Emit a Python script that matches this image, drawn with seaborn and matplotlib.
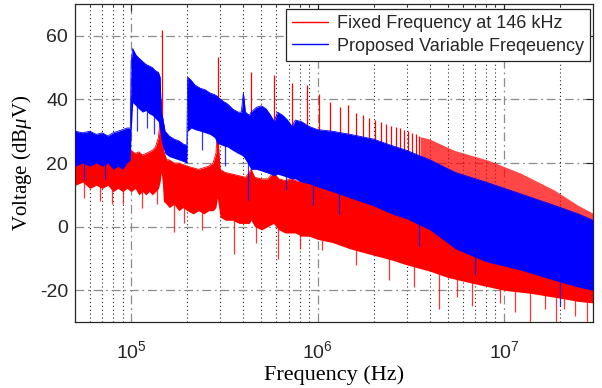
import numpy as np
import pandas as pd
import matplotlib
matplotlib.use("Agg")
import matplotlib.pyplot as plt
import seaborn as sns

# ------------------------------
# Data (frequency in Hz, level in dBuV)
# ------------------------------
# fixed frequency: noise band
red_freq = [5.0e4, 5.5e4, 6.0e4, 6.5e4, 7.0e4, 7.5e4, 8.0e4, 8.5e4, 9.0e4, 9.5e4,
            1.0e5, 1.05e5, 1.1e5, 1.15e5, 1.2e5, 1.25e5, 1.3e5, 1.35e5, 1.4e5, 1.43e5,
            1.45e5, 1.47e5, 1.49e5, 1.55e5, 1.6e5, 1.7e5, 1.8e5, 1.9e5, 2.0e5, 2.15e5,
            2.3e5, 2.45e5, 2.6e5, 2.75e5, 2.85e5, 2.9e5, 2.95e5, 3.0e5, 3.2e5, 3.5e5,
            3.8e5, 4.1e5, 4.3e5, 4.4e5, 4.6e5, 5.0e5, 5.4e5, 5.8e5, 6.2e5, 6.7e5,
            7.2e5, 7.6e5, 8.2e5, 9.0e5, 1.0e6, 1.2e6, 1.5e6, 2.0e6, 2.5e6, 3.0e6,
            4.0e6, 5.0e6, 7.0e6, 1.0e7, 1.4e7, 2.0e7, 2.5e7, 3.0e7]
red_lo = [13, 14, 12, 13, 12, 13, 11, 12, 11, 12,
          11, 12, 10, 11, 10, 11, 10, 11, 12, 14,
          17, 14, 8, 7, 6, 7, 5, 6, 5, 4,
          5, 4, 5, 5, 6, 9, 6, 3, 2, 2,
          1, 1, 1, 2, 0, -1, 0, 1, -1, -2,
          -2, -2, -3, -3, -4, -5, -7, -9, -10.5, -12,
          -14, -16, -18, -20, -21, -22.5, -23.5, -24]
red_hi = [27, 25, 26, 25, 26, 24, 25, 24, 25, 24,
          24, 23, 23.5, 22.5, 23, 23.5, 24, 25, 28, 33,
          40, 36, 24, 21, 21, 20, 20, 19.5, 19, 18.5,
          18, 18.5, 19, 20, 23, 30, 24, 18, 17, 16.5,
          16, 15.5, 17, 18, 15.5, 15, 15, 17, 15, 14.5,
          15, 14.5, 14, 14, 14, 13, 12, 10, 9, 8,
          6, 4.5, 2, 0, -2, -4, -5, -6]

# fixed frequency: switching harmonics (146 kHz and multiples)
harm_freq = [146e3, 292e3, 438e3, 584e3, 730e3, 876e3, 1.022e6, 1.168e6, 1.314e6, 1.46e6,
             1.606e6, 1.752e6, 1.898e6, 2.044e6, 2.19e6, 2.336e6, 2.482e6, 2.628e6, 2.774e6, 2.92e6,
             3.066e6, 3.212e6, 3.358e6, 3.504e6]
harm_peak = [61.7, 53.3, 48.6, 47.7, 45.1, 44.6, 41.6, 39.3, 37.7, 38.3,
             35.7, 35.2, 34.1, 33.6, 33.0, 32.3, 31.7, 31.3, 31.0, 30.4,
             30.0, 29.5, 29.0, 28.6]
harm_base = [20, 22, 17, 16, 15, 14, 14, 13, 13, 12,
             12, 12, 11, 11, 10, 10, 10, 10, 9, 9,
             9, 8, 8, 8]

# dense harmonic comb at high frequency
comb_freq = [3.55e6, 4.0e6, 5.4e6, 8.2e6, 1.23e7, 1.86e7, 2.48e7, 3.0e7]
comb_top = [28.3, 27.5, 24.0, 20.9, 16.8, 11.5, 6.8, 4.2]
comb_base = [8, 6, 4, 1, -1, -3, -5, -6]

# downward spikes of the fixed frequency trace
red_dip_freq = [5.6e4, 6.8e4, 7.9e4, 9.1e4, 1.15e5, 1.38e5, 1.69e5, 1.93e5, 2.4e5, 3.58e5,
                4.7e5, 6.16e5, 8.03e5, 1.05e6, 1.6e6, 2.43e6, 3.3e6, 4.5e6, 5.6e6, 6.75e6,
                9.5e6, 1.15e7, 1.37e7, 1.65e7, 1.9e7, 2.1e7, 2.4e7, 2.8e7]
red_dip_lo = [9, 8, 7, 7.2, 5.7, 7.2, -1.6, 1, -1, -8.7,
              -5, -10.3, -7.1, -7.5, -12, -16.8, -19, -26, -22, -25,
              -24, -27, -30, -26, -30, -26, -28, -30]
red_dip_top = [15, 14, 13, 13, 12, 12, 8, 7, 6, 4,
               2, 1, 0, -2, -5, -8, -10, -12, -14, -15,
               -17, -18, -19, -20, -20, -20, -21, -22]

# proposed variable frequency: noise band
blue_freq = [5.0e4, 5.5e4, 6.0e4, 6.5e4, 7.0e4, 7.5e4, 8.0e4, 8.5e4, 9.0e4, 9.5e4,
             9.9e4, 1.0e5, 1.02e5, 1.06e5, 1.1e5, 1.15e5, 1.2e5, 1.25e5, 1.3e5, 1.35e5,
             1.4e5, 1.43e5, 1.45e5, 1.48e5, 1.52e5, 1.6e5, 1.7e5, 1.8e5, 1.9e5, 1.99e5,
             2.01e5, 2.1e5, 2.2e5, 2.35e5, 2.5e5, 2.65e5, 2.8e5, 2.9e5, 2.95e5, 3.1e5,
             3.3e5, 3.5e5, 3.75e5, 3.9e5, 4.0e5, 4.1e5, 4.3e5, 4.4e5, 4.7e5, 5.0e5,
             5.3e5, 5.6e5, 5.85e5, 6.1e5, 6.5e5, 6.9e5, 7.3e5, 7.6e5, 8.2e5, 9.0e5,
             1.0e6, 1.2e6, 1.5e6, 2.0e6, 2.5e6, 3.0e6, 4.0e6, 5.5e6, 8.0e6, 1.2e7,
             1.9e7, 2.5e7, 3.0e7]
blue_lo = [19, 20, 19, 20, 19, 20, 18, 19, 18, 20,
           21, 30, 39, 38, 37, 36, 36.5, 35.5, 35, 34,
           33, 30, 27, 25, 23, 22, 21.5, 21, 20.5, 20,
           30, 31, 30.5, 30, 29.5, 29, 28, 26, 26, 25.5,
           25, 24, 23, 22.5, 22, 21, 19, 18, 18, 17.5,
           17, 16.5, 16, 16.5, 16, 15.5, 15, 15, 14, 13.5,
           12.5, 11, 9, 6.5, 4, 2.5, -1, -7, -11, -13.5,
           -17, -19, -20]
blue_hi = [30, 29.5, 30, 29, 29.5, 28.5, 29.5, 30, 30.5, 31,
           31, 52, 56, 54, 53, 52, 51, 50.5, 50, 49,
           48.5, 47, 36, 34, 30, 28.5, 27.5, 27, 26, 25.5,
           47, 46, 44.5, 43.5, 43, 42, 41.5, 41, 40.5, 39.5,
           38.5, 37, 36, 36, 42, 36, 35, 36, 37.5, 38,
           37, 35, 33, 36, 35, 33.5, 31.5, 33.5, 33, 31.5,
           30.5, 30, 29, 27.5, 25.5, 24, 21, 17, 14, 10.5,
           6.5, 4, 2]

# downward spikes of the variable frequency trace
blue_dip_freq = [5.6e4, 7.2e4, 1.08e5, 1.22e5, 1.33e5, 2.4e5, 3.2e5, 4.25e5, 6.8e5, 9.4e5,
                 1.3e6, 3.5e6, 7.0e6, 2.0e7]
blue_dip_lo = [14.7, 15, 30, 31, 29, 24, 19, 8.4, 11.5, 6.8,
               4, -6, -15, -25]
blue_dip_top = [22, 22, 40, 40, 38, 32, 27, 20, 17, 15,
                13, 4, -8, -15]

labels = ["Fixed Frequency at 146 kHz", "Proposed Variable Freqeuency"]

# ------------------------------
# Style
# ------------------------------
sns.set_style("white")
plt.rcParams['font.family'] = ['Liberation Sans', 'DejaVu Sans']
plt.rcParams['axes.unicode_minus'] = False
plt.rcParams['mathtext.fontset'] = 'custom'
plt.rcParams['mathtext.rm'] = 'Liberation Serif'
plt.rcParams['mathtext.it'] = 'Liberation Serif:italic'
plt.rcParams['mathtext.default'] = 'regular'

fig = plt.figure(figsize=(6.02, 3.88), dpi=100)
ax = fig.add_axes([0.1246, 0.170, 0.8604, 0.8197])
ax.set_xscale('log')

red = '#ff0000'
blue = '#0000ff'

# fixed frequency trace
ax.fill_between(red_freq, red_lo, red_hi, color=red, lw=0, zorder=2)
ax.vlines(red_dip_freq, red_dip_lo, red_dip_top, color=red, lw=0.9, alpha=0.8, zorder=2)
ax.vlines(harm_freq, harm_base, harm_peak, color=red, lw=0.9, zorder=2)
ax.fill_between(comb_freq, comb_base, comb_top, color=red, alpha=0.72, lw=0, zorder=2)
sns.lineplot(x=red_freq, y=red_hi, color=red, lw=0.6, label=labels[0],
             estimator=None, sort=False, ax=ax, zorder=2)

# variable frequency trace (drawn on top)
ax.fill_between(blue_freq, blue_lo, blue_hi, color=blue, lw=0, zorder=3)
ax.vlines(blue_dip_freq, blue_dip_lo, blue_dip_top, color=blue, lw=0.9, alpha=0.8, zorder=3)
sns.lineplot(x=blue_freq, y=blue_hi, color=blue, lw=0.6, label=labels[1],
             estimator=None, sort=False, ax=ax, zorder=3)

ax.set_xlim(5e4, 3e7)
ax.set_ylim(-30, 70)
ax.set_yticks([-20, 0, 20, 40, 60])
ax.set_xticks([1e5, 1e6, 1e7])

# MATLAB-like grid: dash-dot major, dotted minor on x
ax.set_axisbelow(True)
ax.grid(True, which='major', axis='both', color='0.55', ls=(0, (7, 3, 1.5, 3)), lw=0.9)
ax.grid(True, which='minor', axis='x', color='0.15', ls=(0, (1, 2.5)), lw=0.8)

for s in ax.spines.values():
    s.set_color('0.15')
    s.set_linewidth(0.9)
    s.set_visible(True)

ax.tick_params(which='both', direction='in', top=True, right=True, colors='0.15',
               labelcolor='0.15')
ax.tick_params(which='major', length=5, width=0.8)
ax.tick_params(which='minor', length=2.5, width=0.6)
ax.tick_params(axis='y', labelsize=14, pad=5)
ax.tick_params(axis='x', labelsize=14, pad=13)

ax.set_xlabel('Frequency (Hz)', family='Liberation Serif', fontsize=16, color='k', labelpad=2)
ax.set_ylabel(r'Voltage (dB$\mathit{\mu}$V)', family='Liberation Serif', fontsize=15,
              color='k', labelpad=4)

leg = ax.legend(loc='upper right', bbox_to_anchor=(0.995, 0.985), fontsize=13,
                frameon=True, fancybox=False, framealpha=1, edgecolor='0.15',
                borderpad=0.35, labelspacing=0.3, handlelength=2.0, handletextpad=0.5,
                borderaxespad=0)
leg.get_frame().set_linewidth(0.9)
for line in leg.get_lines():
    line.set_linewidth(1.0)

fig.savefig('out.png', dpi=100)
